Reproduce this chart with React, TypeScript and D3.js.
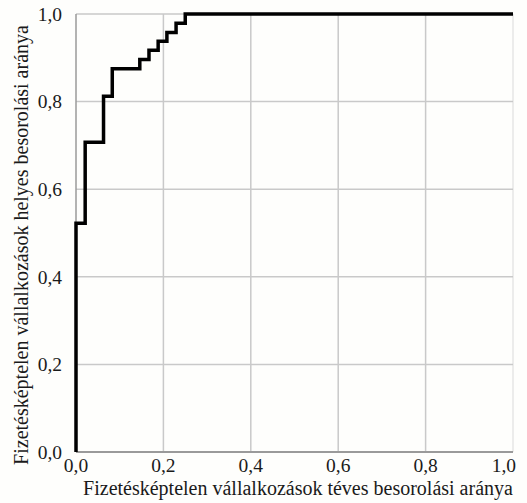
import React from "react";
import * as d3 from "d3";

const fpr = [0, 0, 0.021, 0.063, 0.083, 0.146, 0.167, 0.188, 0.208, 0.229, 0.25, 1.0];
const tpr = [0, 0.522, 0.707, 0.8125, 0.875, 0.896, 0.917, 0.938, 0.958, 0.979, 1.0, 1.0];
const ticks = [0, 0.2, 0.4, 0.6, 0.8, 1.0];
const xTitle = "Fizetésképtelen vállalkozások téves besorolási aránya";
const yTitle = "Fizetésképtelen vállalkozások helyes besorolási aránya";

const W = 527;
const H = 503;
const x = d3.scaleLinear().domain([0, 1]).range([76, 513]);
const y = d3.scaleLinear().domain([0, 1]).range([452, 14]);
const fmt = (v: number) => d3.format(".1f")(v).replace(".", ",");
const font = "'Liberation Serif', 'Times New Roman', serif";

export default function App() {
  const pts: [number, number][] = fpr.map((f, i) => [f, tpr[i]]);
  const line = d3
    .line<[number, number]>()
    .x((d) => x(d[0]))
    .y((d) => y(d[1]))
    .curve(d3.curveStepAfter);

  return (
    <svg
      width={W}
      height={H}
      style={{ position: "absolute", left: 0, top: 0, background: "#fefefc" }}
    >
      {ticks.slice(1).map((t) => (
        <line
          key={"gx" + t}
          x1={x(t)}
          x2={x(t)}
          y1={y(0)}
          y2={y(1)}
          stroke={t === 1 ? "#e6e6e6" : "#c9c9c9"}
          strokeWidth={1.5}
        />
      ))}
      {ticks.slice(1).map((t) => (
        <line
          key={"gy" + t}
          x1={x(0)}
          x2={x(1)}
          y1={y(t)}
          y2={y(t)}
          stroke="#c9c9c9"
          strokeWidth={1.5}
        />
      ))}
      <line x1={x(0)} x2={x(0)} y1={y(0)} y2={y(1)} stroke="#9a9a9a" strokeWidth={1.5} />
      <line x1={x(0)} x2={x(1)} y1={y(0)} y2={y(0)} stroke="#9a9a9a" strokeWidth={2} />
      <path d={line(pts) || ""} fill="none" stroke="#000" strokeWidth={3.5} strokeLinejoin="miter" />
      {ticks.map((t, i) => (
        <text
          key={"xl" + t}
          x={i === ticks.length - 1 ? x(t) + 3 : x(t)}
          y={472}
          textAnchor={i === ticks.length - 1 ? "end" : "middle"}
          fontFamily={font}
          fontSize={19.5}
          fill="#1a1a1a"
        >
          {fmt(t)}
        </text>
      ))}
      {ticks.map((t) => (
        <text
          key={"yl" + t}
          x={62}
          y={y(t)}
          dy="0.35em"
          textAnchor="end"
          fontFamily={font}
          fontSize={19.5}
          fill="#1a1a1a"
        >
          {fmt(t)}
        </text>
      ))}
      <text
        x={298}
        y={495}
        textAnchor="middle"
        fontFamily={font}
        fontSize={20}
        fill="#1a1a1a"
      >
        {xTitle}
      </text>
      <text
        transform={`translate(28, 245) rotate(-90)`}
        textAnchor="middle"
        fontFamily={font}
        fontSize={20}
        fill="#1a1a1a"
      >
        {yTitle}
      </text>
    </svg>
  );
}
